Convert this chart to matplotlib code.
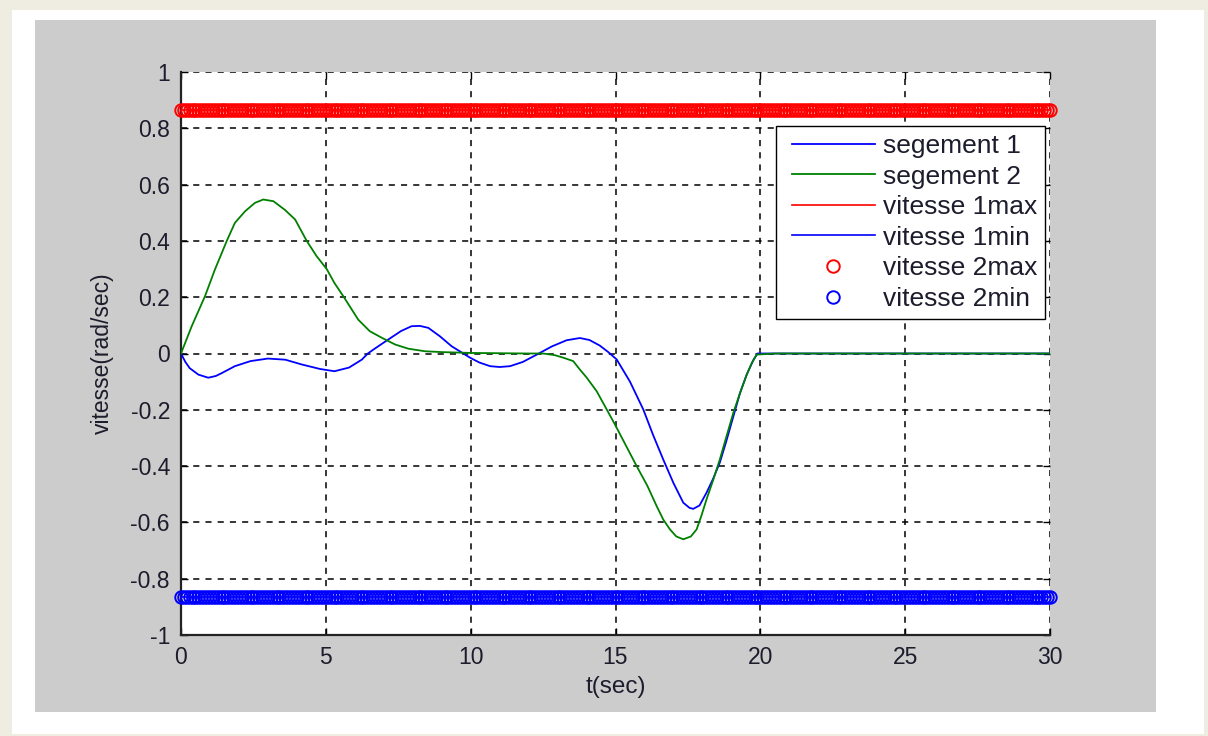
import numpy as np
import matplotlib
matplotlib.use("Agg")
import matplotlib.pyplot as plt
from matplotlib.patches import Rectangle
from matplotlib.legend_handler import HandlerLine2D

# --- data -------------------------------------------------------------
t_seg1 = [0, 0.15, 0.3, 0.6, 0.94, 1.2, 1.4, 1.86, 2.4, 3.0, 3.6, 4.17, 4.8,
          5.3, 5.8, 6.24, 6.45, 6.7, 7.16, 7.6, 7.96, 8.25, 8.54, 8.94, 9.34,
          9.7, 9.98, 10.3, 10.67, 11.0, 11.36, 11.8, 12.28, 12.8, 13.31, 13.77,
          14.1, 14.46, 14.75, 15.04, 15.5, 15.96, 16.3, 16.65, 17.0, 17.34,
          17.55, 17.68, 17.9, 18.14, 18.37, 18.6, 18.83, 19.07, 19.3, 19.53,
          19.75, 19.9, 20.5, 25, 30]
v_seg1 = [0, -0.03, -0.052, -0.075, -0.086, -0.08, -0.07, -0.045, -0.027,
          -0.018, -0.022, -0.039, -0.055, -0.063, -0.05, -0.022, 0.0, 0.018,
          0.05, 0.08, 0.097, 0.098, 0.091, 0.061, 0.026, 0.003, -0.015,
          -0.032, -0.045, -0.048, -0.045, -0.03, -0.004, 0.025, 0.047, 0.055,
          0.048, 0.028, 0.005, -0.021, -0.10, -0.199, -0.29, -0.377, -0.46,
          -0.53, -0.548, -0.552, -0.54, -0.495, -0.445, -0.388, -0.31, -0.223,
          -0.14, -0.075, -0.025, 0, 0, 0, 0]

t_seg2 = [0, 0.37, 0.83, 1.17, 1.58, 1.86, 2.21, 2.55, 2.84, 3.19, 3.59,
          3.94, 4.34, 4.68, 5.03, 5.3, 5.6, 6.12, 6.52, 6.93, 7.39, 7.85, 8.42,
          9.0, 10, 11, 12, 12.5, 12.91, 13.2, 13.54, 13.77, 14.0, 14.35, 14.65,
          14.98, 15.35, 15.73, 16.1, 16.42, 16.65, 16.88, 17.1, 17.34, 17.6,
          17.8, 17.97, 18.14, 18.37, 18.6, 18.83, 19.07, 19.3, 19.53, 19.7,
          19.87, 20.5, 25, 30]
v_seg2 = [0, 0.097, 0.204, 0.298, 0.40, 0.464, 0.505, 0.535, 0.547, 0.541,
          0.51, 0.476, 0.40, 0.346, 0.30, 0.25, 0.204, 0.12, 0.079, 0.056,
          0.032, 0.017, 0.008, 0.005, 0.002, 0.001, 0, 0, -0.006, -0.015,
          -0.027, -0.057, -0.085, -0.134, -0.19, -0.252, -0.325, -0.40, -0.47,
          -0.542, -0.59, -0.625, -0.65, -0.66, -0.65, -0.625, -0.575, -0.519,
          -0.45, -0.377, -0.295, -0.21, -0.14, -0.075, -0.035, -0.004, 0, 0, 0]

v_max = 0.866
v_min = -0.866
t_limits = np.linspace(0, 30, 301)

x_ticks = [0, 5, 10, 15, 20, 25, 30]
y_ticks = [-1, -0.8, -0.6, -0.4, -0.2, 0, 0.2, 0.4, 0.6, 0.8, 1]
y_tick_labels = ["-1", "-0.8", "-0.6", "-0.4", "-0.2", "0", "0.2", "0.4",
                 "0.6", "0.8", "1"]

labels = ["segement 1", "segement 2", "vitesse 1max", "vitesse 1min",
          "vitesse 2max", "vitesse 2min"]

# --- figure -----------------------------------------------------------
plt.rcParams["font.family"] = ["Liberation Sans", "DejaVu Sans"]
W, H = 1208, 736
fig = plt.figure(figsize=(W / 100, H / 100), dpi=100, facecolor="#efece2")

def px_rect(x0, y0, x1, y1, color):
    fig.patches.append(Rectangle((x0 / W, 1 - y1 / H), (x1 - x0) / W,
                                 (y1 - y0) / H, transform=fig.transFigure,
                                 facecolor=color, edgecolor="none", zorder=-10))

px_rect(12, 10, 1204, 734, "white")
px_rect(35, 20, 1156, 712, "#cccccc")

ax = fig.add_axes([181 / W, 1 - 635 / H, (1050 - 181) / W, (635 - 72) / H])
ax.set_facecolor("white")

blue = (0, 0, 1)
green = (0, 0.5, 0)
red = (1, 0, 0)
text_color = "#1c1c2c"

l1, = ax.plot(t_seg1, v_seg1, color=blue, lw=1.3, zorder=3)
l2, = ax.plot(t_seg2, v_seg2, color=green, lw=1.3, zorder=4)
l3, = ax.plot(t_limits, np.full_like(t_limits, v_max), color=red, lw=1.2, zorder=3)
l4, = ax.plot(t_limits, np.full_like(t_limits, v_min), color=blue, lw=1.2, zorder=3)
l5, = ax.plot(t_limits, np.full_like(t_limits, v_max), "o", mfc="none", mec=red,
              ms=9, mew=1.4, clip_on=False, zorder=5)
l6, = ax.plot(t_limits, np.full_like(t_limits, v_min), "o", mfc="none", mec=blue,
              ms=9, mew=1.4, clip_on=False, zorder=5)

ax.set_xlim(0, 30)
ax.set_ylim(-1, 1)
ax.set_xticks(x_ticks)
ax.set_yticks(y_ticks)
ax.set_yticklabels(y_tick_labels)
ax.tick_params(direction="in", top=True, right=True, length=5, width=1,
               labelsize=16.5, pad=8, colors="black", labelcolor=text_color)

ax.grid(True, color="black", linestyle=(0, (4, 4)), linewidth=1.1)
ax.set_axisbelow(True)
for side in ("top", "right"):
    ax.spines[side].set_visible(False)
for side in ("left", "bottom"):
    ax.spines[side].set_linewidth(1.6)
    ax.spines[side].set_color("#222222")

ax.set_xlabel("t(sec)", fontsize=17.5, labelpad=5, color=text_color)
ax.set_ylabel("vitesse(rad/sec)", fontsize=16.5, labelpad=12, color=text_color)

leg_fs = 19
line_handler = HandlerLine2D(xpad=0.3)
leg = ax.legend([l1, l2, l3, l4, l5, l6], labels, loc="upper right",
                bbox_to_anchor=((1045 - 181) / 869, (635 - 126) / 563),
                borderaxespad=0, fontsize=leg_fs, fancybox=False, framealpha=1,
                edgecolor="black", handlelength=3.45, handletextpad=0.3,
                labelspacing=0.25, borderpad=0.3, numpoints=1,
                handler_map={l: line_handler for l in (l1, l2, l3, l4, l5, l6)})
leg.get_frame().set_linewidth(1.0)
leg.set_zorder(10)
for txt in leg.get_texts():
    txt.set_color(text_color)

fig.savefig("out.png", dpi=100, facecolor=fig.get_facecolor())
